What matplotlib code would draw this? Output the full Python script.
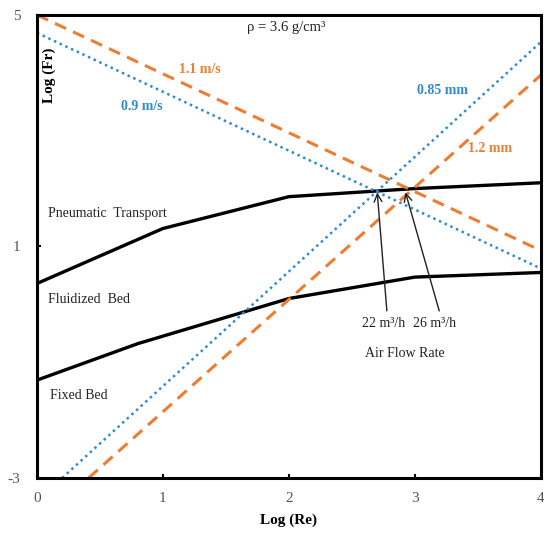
import matplotlib
matplotlib.use("Agg")
from matplotlib import pyplot as plt

# boundary curves (Log Re, Log Fr)
upper_x = [0, 1, 2, 3, 4]
upper_y = [0.36, 1.31, 1.86, 2.0, 2.1]
lower_x = [0, 0.8, 2, 3, 4]
lower_y = [-1.31, -0.68, 0.1, 0.47, 0.55]

# velocity lines
v11_x = [0, 4]
v11_y = [5.0, 0.93]
v09_x = [0, 4]
v09_y = [4.69, 0.62]

# particle size lines
d085_x = [0.2, 4]
d085_y = [-3, 4.53]
d12_x = [0.41, 4]
d12_y = [-3, 3.96]

x_ticks = [0, 1, 2, 3, 4]
y_ticks = [-3, 1, 5]

ORANGE = "#ED7D31"
BLUE = "#2E8BD0"
SERIF = "Liberation Serif"

plt.rcParams["axes.unicode_minus"] = False


def main():
    fig = plt.figure(figsize=(5.44, 5.34), dpi=100)
    ax = fig.add_axes([0.068, 0.105, 0.926, 0.867])

    ax.plot(upper_x, upper_y, color="black", lw=2.4, solid_joinstyle="miter")
    ax.plot(lower_x, lower_y, color="black", lw=2.4, solid_joinstyle="miter")
    ax.plot(v11_x, v11_y, color=ORANGE, lw=2.2, ls=(0, (4, 2.5)))
    ax.plot(v09_x, v09_y, color=BLUE, lw=1.8, ls=(0, (1, 1.5)))
    ax.plot(d085_x, d085_y, color=BLUE, lw=1.8, ls=(0, (1, 1.5)))
    ax.plot(d12_x, d12_y, color=ORANGE, lw=2.2, ls=(0, (4, 2.5)))

    ax.set_xlim(0, 4)
    ax.set_ylim(-3, 5)
    ax.set_xticks(x_ticks)
    ax.set_yticks(y_ticks)
    ax.tick_params(direction="in", length=3, width=1.5, colors="black",
                   labelcolor="#555555", labelsize=11)
    ax.tick_params(axis="x", pad=10)
    ax.tick_params(axis="y", pad=12)
    for lab in ax.get_xticklabels() + ax.get_yticklabels():
        lab.set_family(SERIF)
    for s in ax.spines.values():
        s.set_linewidth(2.2)

    ax.set_xlabel("Log (Re)", family=SERIF, fontweight="bold", fontsize=11, labelpad=6)
    ax.text(0.1, 3.96, "Log (Fr)", family=SERIF, fontweight="bold", fontsize=11,
            rotation=90, ha="center", va="center")

    ax.text(1.98, 4.79, "ρ = 3.6 g/cm³", family=SERIF, fontsize=10.5,
            ha="center", va="center", color="#222222")
    ax.text(1.29, 4.05, "1.1 m/s", family=SERIF, fontweight="bold", fontsize=10,
            color=ORANGE, ha="center", va="center")
    ax.text(0.83, 3.41, "0.9 m/s", family=SERIF, fontweight="bold", fontsize=10,
            color=BLUE, ha="center", va="center")
    ax.text(3.22, 3.70, "0.85 mm", family=SERIF, fontweight="bold", fontsize=10,
            color=BLUE, ha="center", va="center")
    ax.text(3.6, 2.70, "1.2 mm", family=SERIF, fontweight="bold", fontsize=10,
            color=ORANGE, ha="center", va="center")

    ax.text(0.09, 1.57, "Pneumatic  Transport", family=SERIF, fontsize=10,
            ha="left", va="center", color="#222222")
    ax.text(0.09, 0.08, "Fluidized  Bed", family=SERIF, fontsize=10,
            ha="left", va="center", color="#222222")
    ax.text(0.1, -1.58, "Fixed Bed", family=SERIF, fontsize=10,
            ha="left", va="center", color="#222222")

    ax.annotate("", xy=(2.70, 1.98), xytext=(2.78, -0.16),
                arrowprops=dict(arrowstyle="->", color="#222222", lw=1.0,
                                mutation_scale=14))
    ax.annotate("", xy=(2.92, 1.98), xytext=(3.2, -0.16),
                arrowprops=dict(arrowstyle="->", color="#222222", lw=1.0,
                                mutation_scale=14))
    ax.text(2.75, -0.33, "22 m³/h", family=SERIF, fontsize=10,
            ha="center", va="center", color="#222222")
    ax.text(3.16, -0.33, "26 m³/h", family=SERIF, fontsize=10,
            ha="center", va="center", color="#222222")
    ax.text(2.92, -0.85, "Air Flow Rate", family=SERIF, fontsize=10,
            ha="center", va="center", color="#222222")

    fig.savefig("out.png", dpi=100)


if __name__ == "__main__":
    main()
